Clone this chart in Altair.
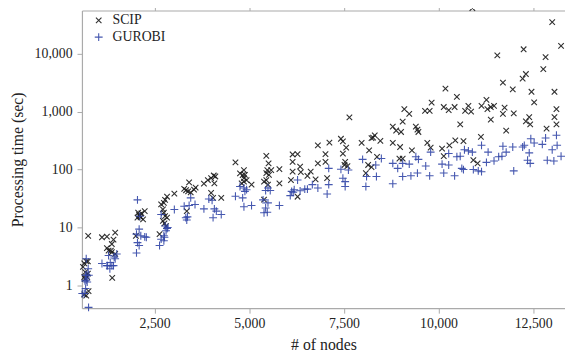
import altair as alt
import pandas as pd

solvers = ["SCIP", "GUROBI"]
x_ticks = [2500, 5000, 7500, 10000, 12500]
y_ticks = [1, 10, 100, 1000, 10000]

scip_nodes = [
    745, 693, 641, 737, 607, 667, 737, 641, 659, 719, 755, 641, 693,
    1109, 1240, 1458, 1414, 1370, 1240, 1284, 1344, 1370, 1458, 1380,
    2065, 2109, 2047, 2151, 2239, 2195, 2005, 2090, 2130,
    2630, 2672, 2744, 2776, 2828, 2719, 2744, 2776, 2719, 2760, 2802, 2828,
    3021, 3281, 3411, 3385, 3453, 3541, 3583, 3349, 3330,
    3802, 3906, 3992, 4062, 4104, 4078, 3992, 4044, 4260,
    4635, 4755, 4859, 4825, 4885, 4859, 4859, 4929, 4799, 5060,
    5450, 5510, 5476, 5580, 5450, 5520, 5390, 5450, 5494, 5390, 5796, 5796,
    6145, 6276, 6145, 6343, 6362, 6145, 6101, 6276,
    6622, 6536, 6752, 6812, 6812, 7013, 7117, 7013, 7057,
    7421, 7473, 7560, 7473, 7533, 7515, 7593, 7645,
    7968, 8166, 8270, 8315, 8229, 8463, 8140, 8229, 8375, 8080, 8791, 8880,
    9010, 9052, 9096, 9226, 8791, 8984, 9296, 9400, 9442, 9468, 9643, 9765,
    9817, 10182, 10137, 10268, 10424, 10484, 9703, 9791, 10093, 10286, 10442,
    10137, 9052, 8966,
    10893, 13002, 13236, 11552, 12247, 12827, 12767, 11700, 11960, 12221,
    12307, 12455, 13062, 12525, 11265, 11135, 10788, 10702, 10859, 11291,
    11380, 11465, 11744, 11700, 11986, 13114, 13062, 11380, 12395, 12307,
    12421, 13114, 12853, 11786, 10572, 11119, 10658, 10919, 11031,
]
scip_time = [
    7.2, 2.6, 2.4, 2.6, 2.1, 1.7, 1.6, 1.4, 1.3, 1.4, 0.8, 0.7, 0.67,
    6.8, 7.0, 8.2, 6.2, 5.2, 4.4, 4.0, 4.0, 3.75, 3.5, 1.35,
    18, 15.7, 14.8, 17.5, 19.2, 13.8, 7.2, 16.5, 15,
    7.7, 25, 26.6, 30, 34, 20.5, 18, 15.8, 13, 11.8, 10.6, 14.8,
    38.5, 46.5, 60, 42, 40.5, 45, 49, 19.2, 44,
    57, 66, 71, 79, 76, 58, 39.5, 32.5, 32.5,
    133, 86, 98, 80, 81, 71, 62, 66, 58, 55,
    172, 128, 98, 98, 87, 81, 62, 66, 55, 30.3, 102, 58,
    182, 184, 136, 112, 90, 92, 66, 34,
    92, 78, 68, 262, 128, 184, 292, 136, 71,
    340, 307, 240, 189, 136, 120, 115, 795,
    288, 215, 355, 390, 350, 312, 120, 110, 166, 87, 550, 472,
    445, 670, 1100, 910, 288, 245, 215, 550, 490, 445, 1030, 1030,
    1430, 2500, 1200, 1060, 1200, 1790, 288, 240, 230, 262, 320,
    170, 155, 155,
    61000, 35000, 13600, 9300, 11900, 8700, 5400, 3150, 2420, 3700,
    4450, 2200, 2200, 1440, 1600, 1260, 1260, 1030, 1000, 1100,
    1200, 1260, 1170, 910, 930, 1100, 800, 730, 800, 680,
    600, 600, 510, 470, 600, 365, 310, 145, 128,
]

gurobi_nodes = [
    711, 693, 641, 755, 693, 745, 677, 763, 659, 719, 677, 589,
    1109, 1240, 1328, 1370, 1414, 1458, 1500, 1284, 1432, 1318, 1258,
    2047, 2091, 2021, 2135, 2239, 2281, 2047, 2091, 2021, 2109,
    2630, 2672, 2744, 2802, 2776, 2846, 2672, 2744, 2828, 2760,
    3021, 3281, 3411, 3453, 3567, 3323, 3367, 3349,
    3802, 3932, 4018, 4078, 4130, 4044, 4260,
    4635, 4825, 4755, 4859, 4929, 4885, 4859, 5060,
    5364, 5432, 5494, 5554, 5494, 5432, 5390, 5476, 5796,
    6083, 6161, 6276, 6343, 6466, 6119, 6187,
    6536, 6666, 6812, 7099, 7057, 7099,
    7421, 7619, 7473, 7533, 7533,
    7994, 8341, 8489, 8098, 8359, 8080, 8791, 8921, 9052, 9226, 9400, 9468,
    9052, 9270, 9442, 9661, 8791, 9765, 9791, 10093, 10268, 10137, 10424,
    10268, 10484, 10614,
    10684, 10788, 10893, 11135, 11309, 11265, 11465, 11588, 11674, 11700,
    11786, 11960, 12221, 12265, 12437, 12525, 12351, 12421, 12395, 12741,
    12827, 13002, 13114, 13132, 12872, 13046, 13236, 11986, 10658, 10919,
    11049, 11135, 10572,
]
gurobi_time = [
    1.5, 1.23, 0.73, 0.42, 2.9, 1.95, 1.5, 1.5, 1.2, 1.15, 0.89, 0.73,
    2.4, 2.2, 2.5, 2.2, 2.2, 2.9, 3.5, 3.3, 3.1, 1.95, 2.2,
    30, 9.4, 7.7, 7.2, 6.9, 6.8, 5.5, 4.9, 3.65, 15.7,
    4.9, 6.3, 7.2, 8.8, 10.6, 10, 16.8, 5.9, 9.6, 6.8,
    20.5, 23.3, 24, 32.5, 25, 14.8, 15.3, 13.5,
    21, 31, 29.5, 21, 19.2, 14.8, 16.8,
    34.6, 32.5, 51, 48, 45, 42, 22.8, 24,
    30, 43.5, 48, 43.5, 26.6, 21.8, 18, 18.4, 24,
    35.5, 40.5, 66, 43, 46, 42, 45,
    46, 55, 48, 55, 38, 105,
    101, 98, 71, 62, 51,
    150, 120, 155, 76, 76, 51, 128, 105, 128, 124, 166, 150,
    76, 78, 87, 115, 57, 78, 200, 124, 120, 87, 78,
    189, 166, 105,
    220, 210, 200, 262, 200, 133, 141, 166, 170, 252,
    200, 245, 245, 262, 340, 288, 145, 128, 194, 272,
    350, 220, 390, 262, 145, 141, 170, 95, 100, 100,
    95, 92, 170,
]

df = pd.concat([
    pd.DataFrame({"nodes": scip_nodes, "time": scip_time, "solver": "SCIP"}),
    pd.DataFrame({"nodes": gurobi_nodes, "time": gurobi_time, "solver": "GUROBI"}),
], ignore_index=True)

X_PATH = "M-0.7,-0.7L0.7,0.7M-0.7,0.7L0.7,-0.7"
PLUS_PATH = "M-1,0L1,0M0,-1L0,1"

FONT = "'Liberation Serif', 'Times New Roman', 'DejaVu Serif', serif"
xscale = alt.Scale(domain=[580, 13340], nice=False, zero=False)
yscale = alt.Scale(type="log", domain=[0.406, 55500], nice=False)

legend = alt.Legend(title=None, orient="none", legendX=10, legendY=3,
                    labelFont=FONT, labelFontSize=14, labelColor="#222",
                    symbolSize=64, symbolStrokeWidth=1.1, rowPadding=3,
                    labelOffset=7, padding=0)

points = alt.Chart(df).mark_point(filled=False, size=64, strokeWidth=1.1, opacity=0.9).encode(
    x=alt.X("nodes:Q", scale=xscale,
            axis=alt.Axis(values=x_ticks, format=",.0f", formatType="number",
                          title="# of nodes", grid=False,
                          labelPadding=4, titlePadding=6)),
    y=alt.Y("time:Q", scale=yscale,
            axis=alt.Axis(values=y_ticks, format=",.0f", formatType="number",
                          title="Processing time (sec)", grid=False,
                          labelPadding=5, titlePadding=9)),
    color=alt.Color("solver:N", scale=alt.Scale(domain=solvers, range=["#1a1a1a", "#3347a8"]),
                    legend=legend),
    shape=alt.Shape("solver:N", scale=alt.Scale(domain=solvers, range=[X_PATH, PLUS_PATH]),
                    legend=legend),
)

top = alt.Chart(df).mark_point(opacity=0).encode(
    x=alt.X("nodes:Q", scale=xscale,
            axis=alt.Axis(orient="top", values=x_ticks, format=",.0f", formatType="number",
                          labels=False, title=None, grid=False)),
)

chart = alt.layer(points, top).resolve_axis(x="independent").properties(
    width=490, height=302,
    autosize=alt.AutoSizeParams(type="none"),
    padding={"left": 75, "top": 0, "right": 0, "bottom": 49},
).configure_view(stroke=None).configure_axis(
    domainColor="#aaa", tickColor="#aaa", tickSize=5, domainWidth=1.2,
    labelFont=FONT, labelFontSize=14, labelColor="#222",
    titleFont=FONT, titleFontSize=16, titleFontWeight="normal", titleColor="#222",
)

chart.save("out.html", embed_options={"renderer": "svg", "actions": False})
